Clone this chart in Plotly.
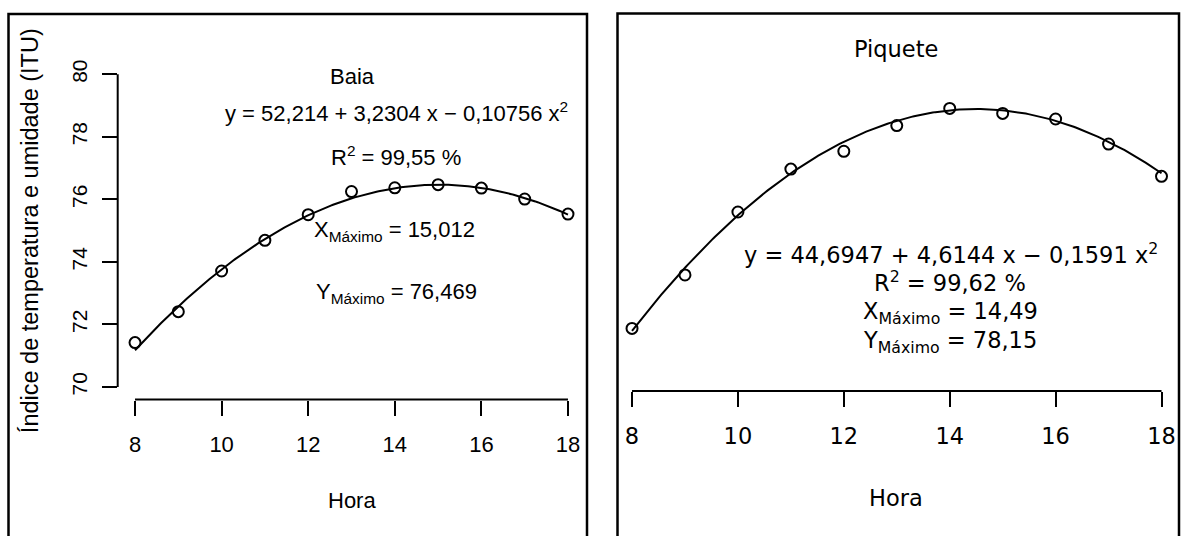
import numpy as np
import plotly.graph_objects as go

W, H = 1181, 536

# ---- data ----
hora = [8, 9, 10, 11, 12, 13, 14, 15, 16, 17, 18]
itu_baia = [71.42, 72.41, 73.71, 74.69, 75.51, 76.25, 76.37, 76.47, 76.36, 76.01, 75.53]
itu_piquete = [71.50, 73.12, 75.03, 76.33, 76.87, 77.65, 78.17, 78.02, 77.85, 77.09, 76.11]
coef_baia = [52.214, 3.2304, -0.10756]
coef_piquete = [44.6947, 4.6144, -0.1591]
x_ticks = [8, 10, 12, 14, 16, 18]
y_ticks = [70, 72, 74, 76, 78, 80]

LEFT = "Liberation Sans Narrow, Arial Narrow, Liberation Sans, Arial, sans-serif"
LEFT_ROT = "Liberation Sans, Arial, Helvetica, sans-serif"
RIGHT = "DejaVu Sans, Verdana, sans-serif"
LS = 22      # left panel text size
RS = 22.5    # right panel text size


def px(x):
    return x / W


def py(y):
    return 1 - y / H


xs = np.linspace(min(hora), max(hora), 200)
fit_b = coef_baia[0] + coef_baia[1] * xs + coef_baia[2] * xs ** 2
fit_p = coef_piquete[0] + coef_piquete[1] * xs + coef_piquete[2] * xs ** 2

fig = go.Figure()
fig.add_trace(go.Scatter(x=xs, y=fit_b, mode="lines", line=dict(color="black", width=2),
                         xaxis="x", yaxis="y", hoverinfo="skip"))
fig.add_trace(go.Scatter(x=hora, y=itu_baia, mode="markers",
                         marker=dict(symbol="circle-open", size=11, color="black", line=dict(width=2)),
                         xaxis="x", yaxis="y"))
fig.add_trace(go.Scatter(x=xs, y=fit_p, mode="lines", line=dict(color="black", width=2),
                         xaxis="x2", yaxis="y2", hoverinfo="skip"))
fig.add_trace(go.Scatter(x=hora, y=itu_piquete, mode="markers",
                         marker=dict(symbol="circle-open", size=11, color="black", line=dict(width=2)),
                         xaxis="x2", yaxis="y2"))

L_top, L_bot = 60, 399
R_top, R_bot = 390.5 - 10.8 * 33.1, 390.5

axis_common = dict(showgrid=False, zeroline=False, showline=False, ticks="outside",
                   ticklen=15, tickwidth=2, tickcolor="black", color="black")

fig.update_layout(
    width=W, height=H, margin=dict(l=0, r=0, t=0, b=0),
    paper_bgcolor="white", plot_bgcolor="white", showlegend=False,
    xaxis=dict(domain=[px(117.7), px(585.3)], range=[7.6, 18.4], anchor="y",
               tickvals=x_ticks, ticktext=[str(v) for v in x_ticks],
               tickfont=dict(family=LEFT, size=LS), ticklabelstandoff=10, **axis_common),
    yaxis=dict(domain=[py(L_bot), py(L_top)], range=[69.6, 80.4], anchor="x",
               tickvals=y_ticks, ticktext=[str(v) for v in y_ticks], tickangle=-90,
               tickfont=dict(family=LEFT_ROT, size=21), ticklabelstandoff=6, **axis_common),
    xaxis2=dict(domain=[px(611), px(1181)], range=[7.603, 18.368], anchor="y2",
                tickvals=x_ticks, ticktext=[str(v) for v in x_ticks],
                tickfont=dict(family=RIGHT, size=RS), ticklabelstandoff=10, **axis_common),
    yaxis2=dict(domain=[py(R_bot), py(R_top)], range=[69.6, 80.4], anchor="x2",
                visible=False, showgrid=False, zeroline=False),
)

shapes = [
    # R-style axis lines spanning first to last tick
    dict(type="line", xref="x", yref="paper", x0=x_ticks[0], x1=x_ticks[-1],
         y0=py(L_bot), y1=py(L_bot), line=dict(color="black", width=2)),
    dict(type="line", xref="paper", yref="y", x0=px(117.7), x1=px(117.7),
         y0=y_ticks[0], y1=y_ticks[-1], line=dict(color="black", width=2)),
    dict(type="line", xref="x2", yref="paper", x0=x_ticks[0], x1=x_ticks[-1],
         y0=py(R_bot), y1=py(R_bot), line=dict(color="black", width=2)),
    # panel frames
    dict(type="rect", xref="paper", yref="paper", x0=px(8.5), x1=px(587), y0=py(560), y1=py(12),
         line=dict(color="black", width=2.5)),
    dict(type="rect", xref="paper", yref="paper", x0=px(617.5), x1=px(1179), y0=py(560), y1=py(11.5),
         line=dict(color="black", width=2.5)),
]
fig.update_layout(shapes=shapes)


def ann(text, x, y, family, size, angle=0):
    return dict(text=text, x=px(x), y=py(y), xref="paper", yref="paper", showarrow=False,
                xanchor="center", yanchor="middle", textangle=angle,
                font=dict(family=family, size=size, color="black"))


annotations = [
    ann("Baia", 352, 74.5, LEFT, LS),
    ann("y = 52,214 + 3,2304 x − 0,10756 x<sup>2</sup>", 396, 110, LEFT, LS),
    ann("R<sup>2</sup> = 99,55 %", 396, 155, LEFT, LS),
    ann("X<sub>Máximo</sub> = 15,012", 394, 230, LEFT, LS),
    ann("Y<sub>Máximo</sub> = 76,469", 396, 292, LEFT, LS),
    ann("Hora", 352, 500, LEFT, LS),
    ann("Índice de temperatura e umidade (ITU)", 30, 230, LEFT_ROT, 23.5, angle=-90),
    ann("Piquete", 896, 47, RIGHT, RS),
    ann("y = 44,6947 + 4,6144 x − 0,1591 x<sup>2</sup>", 951, 252, RIGHT, RS),
    ann("R<sup>2</sup> = 99,62 %", 950, 281, RIGHT, RS),
    ann("X<sub>Máximo</sub> = 14,49", 950, 312, RIGHT, RS),
    ann("Y<sub>Máximo</sub> = 78,15", 950, 341, RIGHT, RS),
    ann("Hora", 896, 498, RIGHT, RS),
]
fig.update_layout(annotations=annotations)

fig.write_html("out.html",
               config={"displayModeBar": False},
               post_script="document.body.style.margin='0px';document.body.style.overflow='hidden';")
